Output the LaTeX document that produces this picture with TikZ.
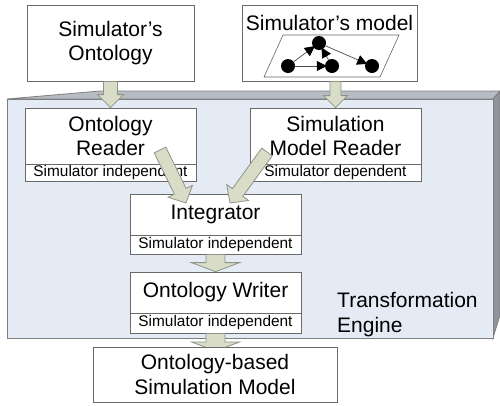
\documentclass[tikz,border=0pt]{standalone}
\usepackage{fontspec}
\setmainfont{Liberation Sans}
\usetikzlibrary{calc,arrows.meta}
\definecolor{frontc}{HTML}{E4EBF5}
\definecolor{topc}{HTML}{B7BBC3}
\definecolor{sidec}{HTML}{90949C}
\definecolor{edgec}{HTML}{7F7F7F}
\definecolor{boxc}{HTML}{6A6A6A}
\definecolor{arrfill}{HTML}{D9DCC6}
\definecolor{arrdraw}{HTML}{8F9488}
\newcommand\fbig{\fontsize{21}{24.5}\selectfont}
\newcommand\fsmall{\fontsize{15.4}{17}\selectfont}
\newcommand\blockarr[5]{%
  \coordinate (baS) at (#1);
  \coordinate (baE) at (#2);
  \coordinate (baH) at ($(baE)!#5!(baS)$);
  \draw[barrow] ($(baS)!#3!90:(baE)$) -- ($(baH)!#3!90:(baE)$) -- ($(baH)!#4!90:(baE)$) -- (baE)
     -- ($(baH)!#4!-90:(baE)$) -- ($(baH)!#3!-90:(baE)$) -- ($(baS)!#3!-90:(baE)$) -- cycle;
}
\tikzset{
  box/.style={draw=boxc, fill=white, line width=0.8pt, inner sep=0pt, align=center, font=\fbig},
  subbox/.style={box, font=\fsmall},
  barrow/.style={fill=arrfill, draw=arrdraw, line width=0.8pt, line join=miter},
  gnode/.style={circle, fill=black, inner sep=0pt, minimum size=14pt},
  gedge/.style={draw=black!70, line width=0.7pt, -{Triangle[length=10pt,width=10pt,color=black]}, shorten >=-2pt},
}
\begin{document}
\begin{tikzpicture}[x=1pt,y=-1pt]
\useasboundingbox (0,0) rectangle (500,405);
% engine (3D box)
\filldraw[fill=topc, draw=edgec, line width=0.8pt] (7,99) -- (100,91) -- (500,91) -- (493,99) -- cycle;
\filldraw[fill=sidec, draw=edgec, line width=0.8pt] (493,99) -- (500,91) -- (500,315) -- (493,338) -- cycle;
\filldraw[fill=frontc, draw=edgec, line width=0.8pt] (7,99) rectangle (493,338);
% top boxes
\node[box, minimum width=167pt, minimum height=76pt] (so) at (110.5,43) {Simulator’s\\Ontology};
\node[box, minimum width=175pt, minimum height=76pt] (sm) at (329.5,43) {};
\node[font=\fbig, inner sep=0pt] (smt) at (329.5,23) {Simulator’s model};
\draw[draw=black!60, line width=0.6pt] (283,35) -- (399,35) -- (380,77) -- (264,77) -- cycle;
\node[gnode] (g1) at (288,66) {};
\node[gnode] (g2) at (319,43) {};
\node[gnode] (g3) at (332,66) {};
\node[gnode] (g4) at (372,66) {};
\draw[gedge] (g1) -- (g2);
\draw[gedge] (g1) -- (g3);
\draw[gedge] (g3) -- (g2);
\draw[gedge] (g2) -- (g4);
% readers
\node[box, minimum width=171pt, minimum height=56pt] (or) at (110.5,136) {Ontology\\Reader};
\node[subbox, minimum width=171pt, minimum height=17pt] (ors) at (110.5,172.5) {Simulator independent};
\node[box, minimum width=171pt, minimum height=56pt] (smr) at (335.5,136) {Simulation\\Model Reader};
\node[subbox, minimum width=171pt, minimum height=17pt] (smrs) at (335.5,172.5) {Simulator dependent};
% integrator and writer
\node[box, minimum width=171pt, minimum height=41pt] (int) at (215.5,214.5) {Integrator};
\node[subbox, minimum width=171pt, minimum height=19pt] (ints) at (215.5,244.5) {Simulator independent};
\node[box, minimum width=171pt, minimum height=41pt] (ow) at (215.5,292.5) {Ontology Writer};
\node[subbox, minimum width=171pt, minimum height=20pt] (ows) at (215.5,323) {Simulator independent};
% block arrows
\blockarr{so.south}{or.north}{7pt}{13pt}{13pt}
\blockarr{sm.south -| smr.north}{smr.north}{5.5pt}{12pt}{12pt}
\coordinate (cS) at (160,150);
\coordinate (cE) at (186,203);
\blockarr{cS}{cE}{6.5pt}{13.5pt}{13pt}
\coordinate (dS) at (267,152);
\coordinate (dE) at (230,203);
\blockarr{dS}{dE}{6.5pt}{13.5pt}{13pt}
\blockarr{ints.south}{ow.north}{9.5pt}{24pt}{9pt}
\coordinate (obtop) at (215.5,351);
\blockarr{ows.south}{obtop}{9.5pt}{24pt}{9pt}
% output
\node[box, minimum width=244pt, minimum height=55pt] (obsm) at (215,374.5) {Ontology-based\\Simulation Model};
\node[anchor=west, align=left, font=\fbig, inner sep=0pt] (te) at (337,314.5) {Transformation\\Engine};
\end{tikzpicture}
\end{document}
